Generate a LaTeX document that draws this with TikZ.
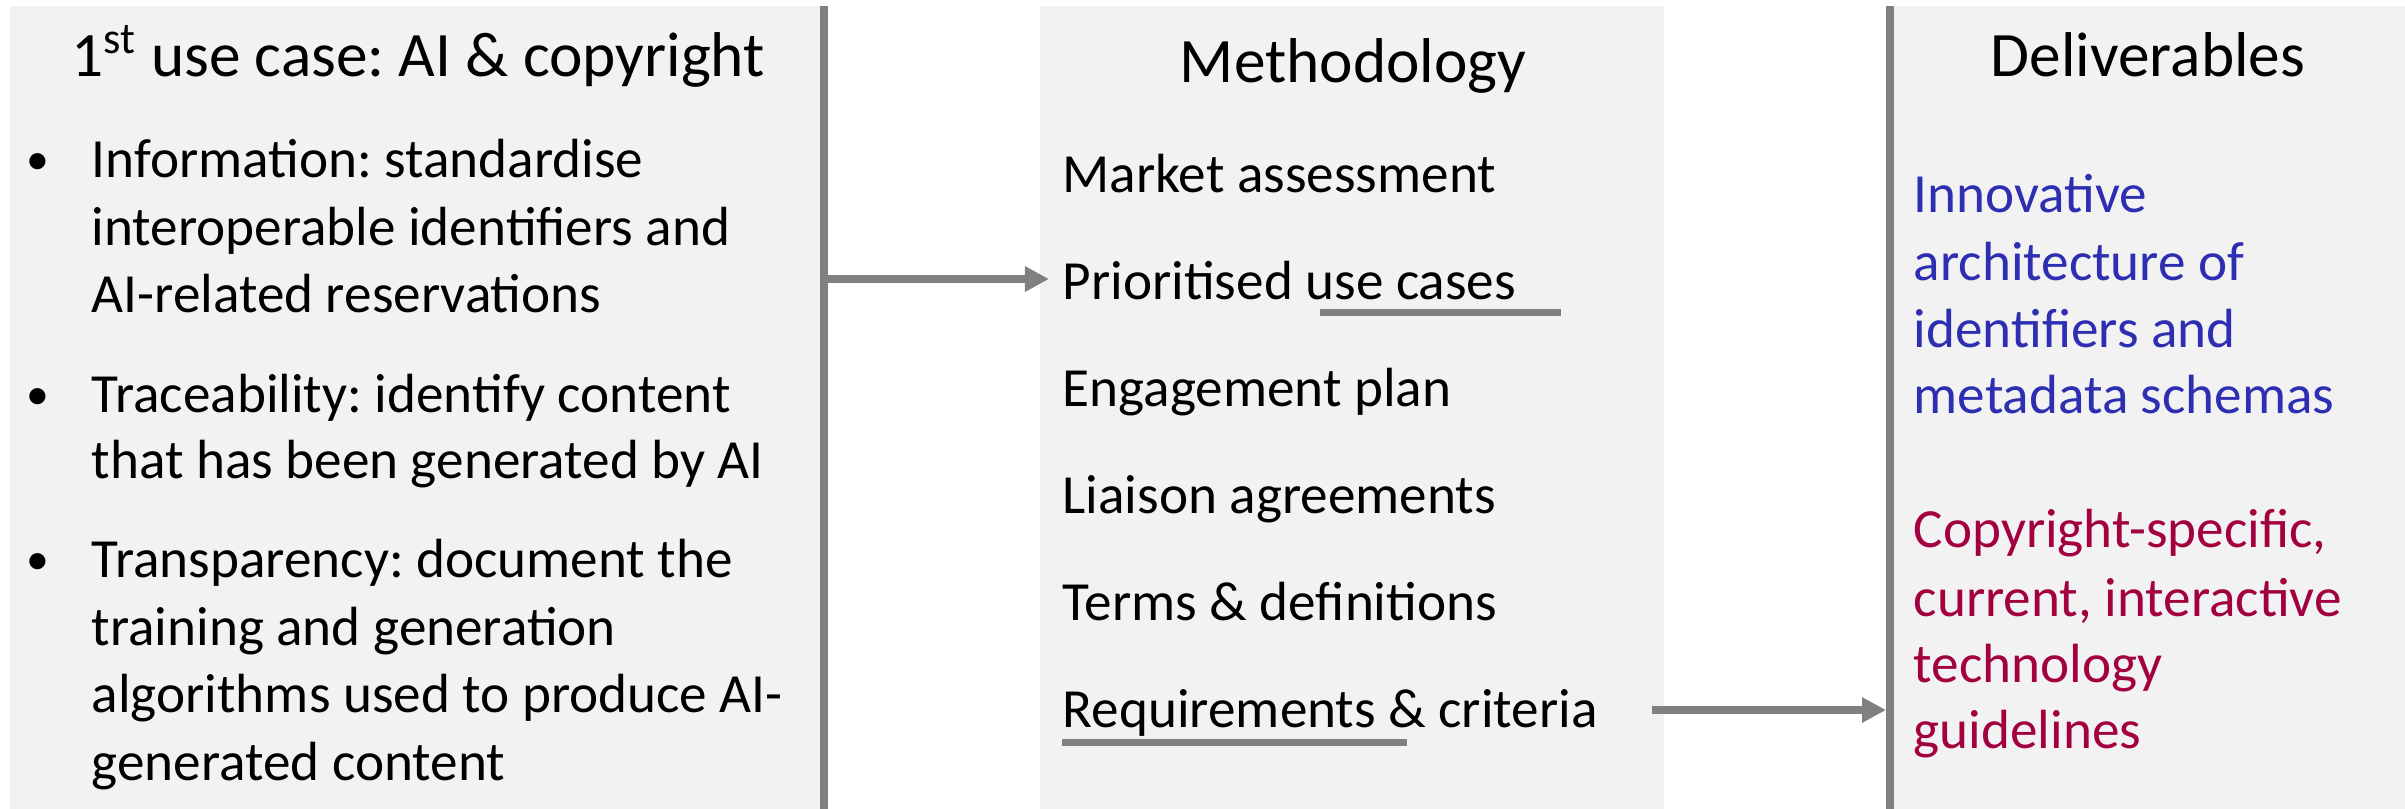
\documentclass[tikz,border=0pt]{standalone}
\usepackage{fontspec}
\setmainfont{Carlito}
\usetikzlibrary{arrows.meta}
\definecolor{panelgray}{RGB}{242,242,242}
\definecolor{linegray}{RGB}{128,128,128}
\definecolor{delblue}{RGB}{46,46,178}
\definecolor{delred}{RGB}{163,0,64}
\frenchspacing

\begin{document}
\begin{tikzpicture}[
  x=0.01cm, y=-0.01cm,
  panel/.style={fill=panelgray},
  divider/.style={draw=linegray, line width=0.08cm},
  arrow/.style={-{Triangle[length=0.24cm, width=0.24cm]}, draw=linegray, line width=0.08cm},
  underbar/.style={draw=linegray, line width=0.07cm},
  heading/.style={font=\fontsize{18}{21}\selectfont, inner sep=0pt, anchor=base},
  body/.style={font=\fontsize{15.7}{19}\selectfont, inner sep=0pt, anchor=base west},
  bullet/.style={font=\fontsize{13}{16}\selectfont, inner sep=0pt, anchor=base}
]
\useasboundingbox (0,0) rectangle (2405,809);
\fill[white] (0,0) rectangle (2405,809);

% panels
\fill[panel] (10,6) rectangle (820,809);
\fill[panel] (1040,6) rectangle (1664,809);
\fill[panel] (1894,6) rectangle (2405,809);

% dividers
\coordinate (d1top) at (824,6);
\coordinate (d1bot) at (824,809);
\coordinate (d2top) at (1890,6);
\coordinate (d2bot) at (1890,809);
\draw[divider] (d1top) -- (d1bot);
\draw[divider] (d2top) -- (d2bot);

% use case
\node[heading] (usecase) at (418,76) {1\textsuperscript{st} use case: AI \& copyright};

\node[bullet] (b1) at (38,174) {\textbullet};
\node[body] (info1) at (91,177) {Information: standardise};
\node[body] (info2) at (91,245) {interoperable identifiers and};
\node[body] (info3) at (91,312) {AI-related reservations};

\node[bullet] (b2) at (38,409) {\textbullet};
\node[body] (trace1) at (91,412) {Traceability: identify content};
\node[body] (trace2) at (91,478) {that has been generated by AI};

\node[bullet] (b3) at (38,574) {\textbullet};
\node[body] (transp1) at (91,577) {Transparency: document the};
\node[body] (transp2) at (91,645) {training and generation};
\node[body] (transp3) at (91,712) {algorithms used to produce AI-};
\node[body] (transp4) at (91,780) {generated content};

% methodology
\node[heading] (method) at (1353,82) {Methodology};
\foreach \txt [count=\i] in {Market assessment, Prioritised use cases, Engagement plan,
  Liaison agreements, Terms \& definitions, Requirements \& criteria}
  \node[body] (m\i) at (1062,{192+107*(\i-1)}) {\txt};

\draw[underbar] (1320,312) -- (1561,312);
\draw[underbar] (1062,742) -- (1407,742);

% deliverables
\node[heading] (deliv) at (2148,76) {Deliverables};

\node[body, text=delblue] (arch1) at (1913,212) {Innovative};
\node[body, text=delblue] (arch2) at (1913,280) {architecture of};
\node[body, text=delblue] (arch3) at (1913,347) {identifiers and};
\node[body, text=delblue] (arch4) at (1913,413) {metadata schemas};

\node[body, text=delred] (guide1) at (1913,547) {Copyright-specific,};
\node[body, text=delred] (guide2) at (1913,616) {current, interactive};
\node[body, text=delred] (guide3) at (1913,682) {technology};
\node[body, text=delred] (guide4) at (1913,748) {guidelines};

% arrows
\coordinate (in1) at (824,279);
\coordinate (out1) at (1049,279);
\coordinate (in2) at (1652,710);
\coordinate (out2) at (1886,710);
\draw[arrow] (in1) -- (out1);
\draw[arrow] (in2) -- (out2);

\end{tikzpicture}
\end{document}
